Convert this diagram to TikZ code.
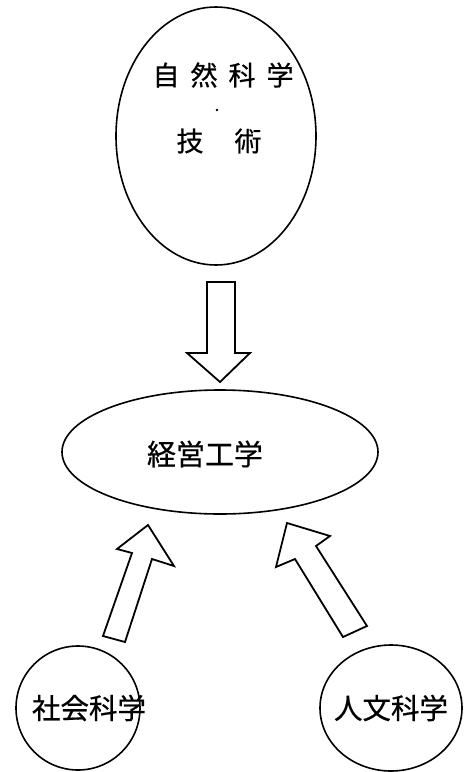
\documentclass[tikz,border=0pt]{standalone}
\usepackage{fontspec}
\newfontfamily\cjk[FakeBold=0.6]{Noto Sans CJK JP}
\usetikzlibrary{shapes.geometric}
\tikzset{
  oval/.style={ellipse, draw, line width=1.6pt, inner sep=0pt},
  lbl/.style={inner sep=0pt, font=\cjk\fontsize{27}{27}\selectfont},
  blockarrow/.style={draw, line width=1.8pt, line join=miter, fill=white}
}
\begin{document}
\begin{tikzpicture}[x=1pt,y=-1pt]
\useasboundingbox (0,0) rectangle (467,772);
% top ellipse
\node[oval, minimum width=200pt, minimum height=258pt] (nat) at (216,136) {};
\node[lbl] (t1) at (223,75) {自\hspace{11pt}然\hspace{11pt}科\hspace{11pt}学};
\fill (217,110) circle (1.3);
\node[lbl] (t2) at (219,141) {技\hspace{31pt}術};
% middle ellipse
\node[oval, minimum width=316pt, minimum height=124pt] (eng) at (220,452) {};
\node[lbl, font=\cjk\fontsize{29}{29}\selectfont] (t3) at (205,454) {経営工学};
% bottom circles
\node[oval, minimum width=124pt, minimum height=124pt] (soc) at (78,708) {};
\node[lbl, font=\cjk\fontsize{28.5}{28.5}\selectfont] (t4) at (89,708) {社会科学};
\node[oval, minimum width=142pt, minimum height=126pt] (hum) at (391,708) {};
\node[lbl, font=\cjk\fontsize{28.5}{28.5}\selectfont] (t5) at (391,708) {人文科学};
% down arrow
\draw[blockarrow] (207,282) -- (235,282) -- (235,353) -- (250,353) -- (220,382)
  -- (187,353) -- (207,353) -- cycle;
% left arrow
\draw[blockarrow] (103,636) -- (132,553) -- (117,549) -- (148,525) -- (174,566)
  -- (152,559) -- (125,642) -- cycle;
% right arrow
\draw[blockarrow] (343,637) -- (295,559) -- (276,567) -- (287,523) -- (330,536)
  -- (316,546) -- (367,626) -- cycle;
\end{tikzpicture}
\end{document}
